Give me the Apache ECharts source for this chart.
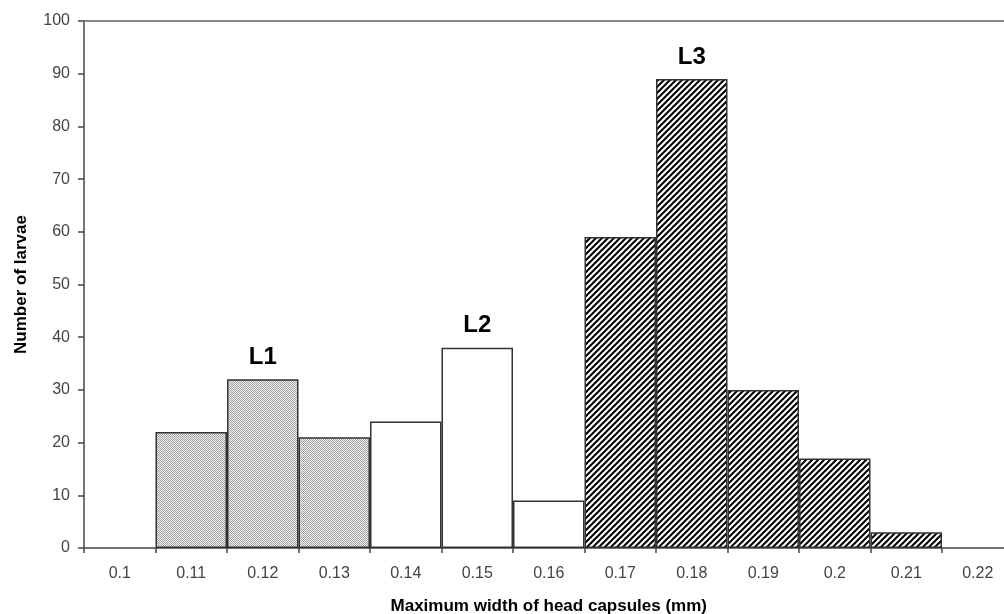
<!DOCTYPE html>
<html>
<head>
<meta charset="utf-8">
<script src="https://cdn.jsdelivr.net/npm/echarts@6/dist/echarts.min.js"></script>
<style>
html,body{margin:0;padding:0;background:#fff;}
#chart{width:1004px;height:614px;}
</style>
</head>
<body>
<div id="chart"></div>
<script>
const categories = ['0.1','0.11','0.12','0.13','0.14','0.15','0.16','0.17','0.18','0.19','0.2','0.21','0.22'];
const counts = [0, 22, 32, 21, 24, 38, 9, 59, 89, 30, 17, 3, 0];
const instar = ['', 'L1', 'L1', 'L1', 'L2', 'L2', 'L2', 'L3', 'L3', 'L3', 'L3', 'L3', ''];
const stageLabels = ['', '', 'L1', '', '', 'L2', '', '', 'L3', '', '', '', ''];
const yTicks = { min: 0, max: 100, interval: 10 };

function dotPattern() {
  const c = document.createElement('canvas');
  c.width = 2; c.height = 2;
  const g = c.getContext('2d');
  g.fillStyle = '#f2f2f2'; g.fillRect(0, 0, 2, 2);
  g.fillStyle = '#a2a2a2'; g.fillRect(0, 0, 1, 1); g.fillRect(1, 1, 1, 1);
  return { image: c, repeat: 'repeat' };
}
function hatchPattern() {
  const s = 6;
  const c = document.createElement('canvas');
  c.width = s; c.height = s;
  const g = c.getContext('2d');
  g.fillStyle = '#ffffff'; g.fillRect(0, 0, s, s);
  g.strokeStyle = '#000000'; g.lineWidth = 2;
  g.beginPath();
  g.moveTo(0, s); g.lineTo(s, 0);
  g.moveTo(-s / 2, s / 2); g.lineTo(s / 2, -s / 2);
  g.moveTo(s / 2, s * 1.5); g.lineTo(s * 1.5, s / 2);
  g.stroke();
  return { image: c, repeat: 'repeat' };
}
const fills = { L1: dotPattern(), L2: '#ffffff', L3: hatchPattern(), '': '#ffffff' };

const barData = counts.map((v, i) => ({
  value: v,
  itemStyle: { color: fills[instar[i]], borderColor: '#333', borderWidth: v ? 1.5 : 0 },
  label: { show: !!stageLabels[i] }
}));

const chart = echarts.init(document.getElementById('chart'));
chart.setOption({
  animation: false,
  backgroundColor: '#fff',
  textStyle: { fontFamily: 'Liberation Sans, Arial, sans-serif' },
  grid: { left: 84, right: -9.5, top: 21, bottom: 66, containLabel: false, outerBoundsMode: 'none' },
  xAxis: {
    type: 'category',
    data: categories,
    boundaryGap: true,
    name: 'Maximum width of head capsules (mm)',
    nameLocation: 'middle',
    nameGap: 50,
    nameTextStyle: { fontSize: 17, fontWeight: 'bold', color: '#000' },
    axisLine: { lineStyle: { color: '#444', width: 1.5 } },
    axisTick: { show: true, alignWithLabel: false, length: 5, lineStyle: { color: '#444', width: 1.5 } },
    axisLabel: { fontSize: 16, color: '#444', margin: 18, interval: 0 },
    splitLine: { show: false }
  },
  yAxis: {
    type: 'value',
    min: yTicks.min, max: yTicks.max, interval: yTicks.interval,
    name: 'Number of larvae',
    nameLocation: 'middle',
    nameGap: 54,
    nameRotate: 90,
    nameTextStyle: { fontSize: 17, fontWeight: 'bold', color: '#000' },
    axisLine: { show: true, lineStyle: { color: '#444', width: 1.5 } },
    axisTick: { show: true, length: 6, lineStyle: { color: '#444', width: 1.5 } },
    axisLabel: { fontSize: 16, color: '#444', margin: 14 },
    splitLine: { show: false }
  },
  series: [{
    type: 'bar',
    data: barData,
    barCategoryGap: '0%',
    label: {
      position: 'top',
      distance: 10,
      fontSize: 24,
      fontWeight: 'bold',
      color: '#000',
      formatter: p => stageLabels[p.dataIndex]
    },
    markLine: {
      silent: true,
      symbol: 'none',
      label: { show: false },
      lineStyle: { color: '#888', width: 2, type: 'solid' },
      data: [{ yAxis: yTicks.max }]
    }
  }]
});
</script>
</body>
</html>
